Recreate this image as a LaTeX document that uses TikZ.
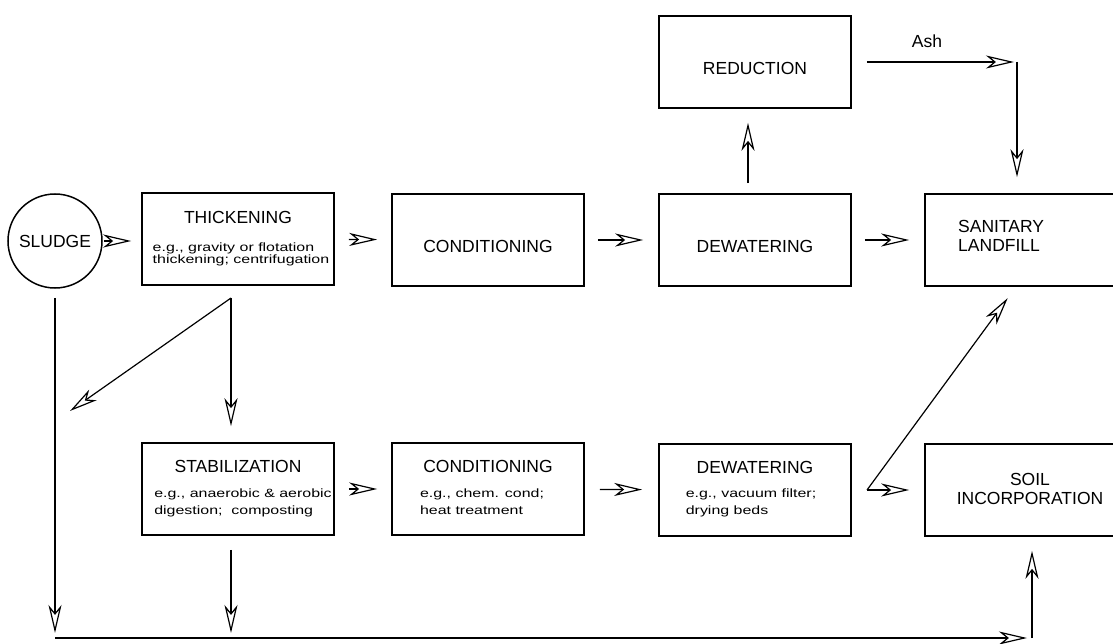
\documentclass[tikz,border=0pt]{standalone}
\usepackage{fontspec}
\setmainfont{Liberation Sans}
\newfontfamily\subfont[FakeStretch=1.33]{Liberation Sans}
\usetikzlibrary{arrows.meta}
\begin{document}
\begin{tikzpicture}[
                        x=1pt, y=-1pt,
                        >={Stealth[open, length=28pt, width=13pt, inset=8pt]},
                        block/.style={rectangle, draw, line width=1.6pt, minimum width=192pt, minimum height=92pt, inner sep=0pt},
                        title/.style={inner sep=0pt, font=\fontsize{17.5}{19}\selectfont},
                        low/.style={text height=25pt, text depth=0pt},
                        note/.style={inner sep=0pt, align=left, font=\subfont\fontsize{12}{17}\selectfont},
                        flow/.style={->, line width=1.2pt}
                    ]
                    \fill[white] (0,0) rectangle (1113,644);
                    \useasboundingbox (0,0) rectangle (1113,644);
                    % Blocks
                    \node [circle, draw, line width=1.5pt, minimum size=94pt, inner sep=0pt, title] (sludge) at (55,241) {SLUDGE};
                    \node [block] (thick) at (238,239) {};
                    \node [title] (thick-t) at ([yshift=-25pt]thick.north) {THICKENING};
                    \node [note, font=\subfont\fontsize{12}{12}\selectfont] (thick-n) at ([xshift=3pt, yshift=-15pt]thick.center) {e.g., gravity or flotation\\thickening; centrifugation};
                    \node [block, title, low] (cond1) at (488,240) {CONDITIONING};
                    \node [block, title, low] (dew1) at (755,240) {DEWATERING};
                    \node [block, title, low] (red) at (755,62) {REDUCTION};
                    \node [block] (fill) at (1021,240) {};
                    \node [title, align=left, anchor=west] (fill-t) at (958,236) {SANITARY\\LANDFILL};

                    \node [block] (stab) at (238,489) {};
                    \node [title] (stab-t) at ([yshift=-24pt]stab.north) {STABILIZATION};
                    \node [note] (stab-n) at ([xshift=5pt, yshift=-14pt]stab.center) {e.g., anaerobic \& aerobic\\digestion;\ \ composting};
                    \node [block] (cond2) at (488,489) {};
                    \node [title] (cond2-t) at ([yshift=-24pt]cond2.north) {CONDITIONING};
                    \node [note] (cond2-n) at ([xshift=-6pt, yshift=-13pt]cond2.center) {e.g., chem. cond;\\heat treatment};
                    \node [block] (dew2) at (755,490) {};
                    \node [title] (dew2-t) at ([yshift=-24pt]dew2.north) {DEWATERING};
                    \node [note] (dew2-n) at ([xshift=-4pt, yshift=-13pt]dew2.center) {e.g., vacuum filter;\\drying beds};
                    \node [block] (soil) at (1021,490) {};
                    \node [title, align=center] (soil-t) at (1030,489) {SOIL\\INCORPORATION};

                    \node [title] (ash) at (927,41) {Ash};

                    % Points
                    \coordinate (tsplit) at (231,298);
                    \coordinate (tout) at (70,411);
                    \coordinate (dsplit) at (867,490);
                    \coordinate (ashc) at (1017,62);
                    \coordinate (sl-low) at (55,638);
                    \coordinate (st-low) at (231,638);
                    \coordinate (so-low) at (1032,638);

                    % Connections
                    \draw [flow, shorten <=1pt, shorten >=10pt] (sludge.east) -- (sludge.east -| thick.west);
                    \draw [flow, shorten <=14pt, shorten >=14pt] (thick) -- (cond1);
                    \draw [flow, shorten <=13pt, shorten >=15pt] (cond1) -- (dew1);
                    \draw [flow, shorten <=13pt, shorten >=15pt] (dew1) -- (fill);
                    \draw [flow, shorten <=10pt, shorten >=14pt] ([xshift=-7pt]dew1.north) -- ([xshift=-7pt]red.south);
                    \draw [flow, shorten <=15pt, shorten >=3pt] (red.east) -- (ashc);
                    \draw [flow, shorten >=16pt] (ashc) -- (ashc |- fill.north);

                    \draw [flow] (tsplit) -- (tout);
                    \draw [flow, shorten >=16pt] (tsplit) -- (tsplit |- stab.north);
                    \draw [flow, shorten <=14pt, shorten >=14pt] (stab) -- (cond2);
                    \draw [flow, shorten <=15pt, shorten >=16pt] (cond2) -- (dew2);
                    \draw [flow, shorten >=15pt] (dsplit) -- (dsplit -| soil.west);
                    \draw [flow, shorten >=14pt] (dsplit) -- ([xshift=-5pt]fill.south);

                    \draw [flow, shorten <=9pt, shorten >=5pt] (sludge.south) -- (sl-low);
                    \draw [flow, shorten <=14pt, shorten >=5pt] (st-low |- stab.south) -- (st-low);
                    \draw [flow, shorten >=5pt] (sl-low) -- (so-low);
                    \draw [flow, shorten >=14pt] (so-low) -- (so-low |- soil.south);
                \end{tikzpicture}
\end{document}
